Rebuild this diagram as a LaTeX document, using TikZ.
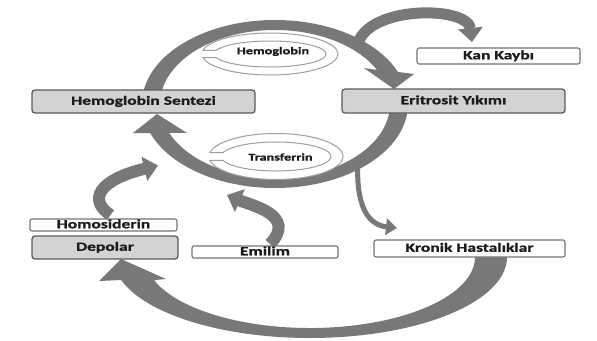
\documentclass[tikz,border=0pt]{standalone}
\usepackage{fontspec}
\setmainfont{Carlito}[FakeStretch=1.4,BoldFeatures={FakeBold=1.2}]
\usetikzlibrary{arrows.meta,calc}
\definecolor{arr}{HTML}{787878}
\definecolor{boxg}{HTML}{D3D3D3}
\definecolor{edgeg}{HTML}{5B5B5B}
\definecolor{edgew}{HTML}{747474}
\definecolor{loopc}{HTML}{9E9E9E}
\definecolor{txt}{HTML}{1C1C1C}
\begin{document}
\begin{tikzpicture}[x=1pt,y=-1pt,
  boxfont/.style={font=\bfseries\fontsize{12.5}{14}\selectfont,text=txt},
  gbox/.style={boxfont,draw=edgeg,line width=1.3pt,fill=boxg,rounded corners=3pt,inner sep=0pt,text height=8.5pt,text depth=2pt},
  wbox/.style={boxfont,draw=edgew,line width=1.1pt,fill=white,rounded corners=2pt,inner sep=0pt,text height=8.5pt,text depth=2pt},
  band/.style={fill=arr},
  smallarr/.style={draw=arr,line width=12pt,-{Triangle[width=24pt,length=14pt]}},
  thinarr/.style={draw=arr,line width=5pt,-{Triangle[width=16pt,length=11pt]}},
  loopband/.style={draw=loopc,line width=1pt,fill=white},
  inlbl/.style={font=\bfseries\fontsize{10.2}{12}\selectfont,text=txt,inner sep=0pt}
]
\fill[white] (0,0) rectangle (597,340);
\useasboundingbox (0,0) rectangle (597,340);

% named centres
\coordinate (rc) at (275,104);
\coordinate (bc) at (310,257);
\coordinate (hc) at (270,54);
\coordinate (tc) at (276,156.5);
\coordinate (kst) at (357,48);
\coordinate (kro) at (358,158);
\coordinate (hsc) at (143.5,101.5);
\coordinate (eyc) at (453.5,101);
\coordinate (kkc) at (498.5,56);
\coordinate (hoc) at (103.5,225);
\coordinate (dec) at (105,247.5);
\coordinate (emc) at (265,252);
\coordinate (khc) at (469.5,248.5);

% ---- main ring, top half: Hemoglobin Sentezi -> Eritrosit Yikimi
\fill[band] ($(rc)+(180:133 and 84)$) arc[start angle=180,end angle=337.6,x radius=133,y radius=84]
  -- (414,74) -- (394,89) -- (364,68)
  -- ($(rc)+(332.6:115 and 74)$) arc[start angle=332.6,end angle=180,x radius=115,y radius=74] -- cycle;
% ---- main ring, bottom half: Eritrosit Yikimi -> Hemoglobin Sentezi
\fill[band] ($(rc)+(0:133 and 84)$) arc[start angle=0,end angle=159.8,x radius=133,y radius=84]
  -- (133,133) -- (157,114) -- (187,133)
  -- ($(rc)+(157:115 and 74)$) arc[start angle=157,end angle=0,x radius=115,y radius=74] -- cycle;
% ---- big lower arrow: Kronik Hastaliklar -> Depolar
\fill[band] ($(bc)+(-5:197 and 81)$) arc[start angle=-5,end angle=163.5,x radius=197,y radius=81]
  -- (99,281) -- (121,259) -- (166,279)
  -- ($(bc)+(161:165 and 71)$) arc[start angle=161,end angle=-5,x radius=165,y radius=71] -- cycle;

% ---- inner loops
\path[loopband] ($(hc)+(190:68 and 21)$) arc[start angle=190,end angle=530,x radius=68,y radius=21]
  -- ($(hc)+(523.7:56 and 13)$) arc[start angle=523.7,end angle=196.3,x radius=56,y radius=13] -- cycle;
\node[inlbl] (hl) at (273,51.5) {Hemoglobin};
\path[loopband] ($(tc)+(190:67 and 23)$) arc[start angle=190,end angle=530,x radius=67,y radius=23]
  -- ($(tc)+(524:55 and 14.5)$) arc[start angle=524,end angle=196,x radius=55,y radius=14.5] -- cycle;
\node[inlbl] (tl) at (280.5,157) {Transferrin};

% ---- small arrows (drawn before the boxes so the boxes cover their feet)
\draw[smallarr,line width=11pt] (kst) .. controls (362,5) and (468,5) .. ($(kkc)+(-26.5,-14)$);
\draw[smallarr] ($(hoc)+(7,-10)$) .. controls (88,200) and (98,180) .. ($(hsc)+(14.5,64)$);
\draw[smallarr] ($(emc)+(5,-8)$) .. controls (298,215) and (250,205) .. ($(emc)+(-38,-57)$);
\draw[thinarr] (kro) .. controls (355,210) and (370,225) .. ($(khc)+(-72.5,-20.5)$);

% ---- boxes
\node[gbox,minimum width=223pt,minimum height=23pt] (hs) at (hsc) {Hemoglobin Sentezi};
\node[gbox,minimum width=223pt,minimum height=24pt] (ey) at (eyc) {Eritrosit Yıkımı};
\node[wbox,minimum width=163pt,minimum height=16pt] (kk) at (kkc) {Kan Kaybı};
\node[wbox,minimum width=147pt,minimum height=12pt] (ho) at (hoc) {Homosiderin};
\node[gbox,minimum width=146pt,minimum height=23pt] (de) at (dec) {Depolar};
\node[wbox,minimum width=146pt,minimum height=12pt] (em) at (emc) {Emilim};
\node[wbox,minimum width=191pt,minimum height=17pt] (kh) at (khc) {Kronik Hastalıklar};
\end{tikzpicture}
\end{document}
